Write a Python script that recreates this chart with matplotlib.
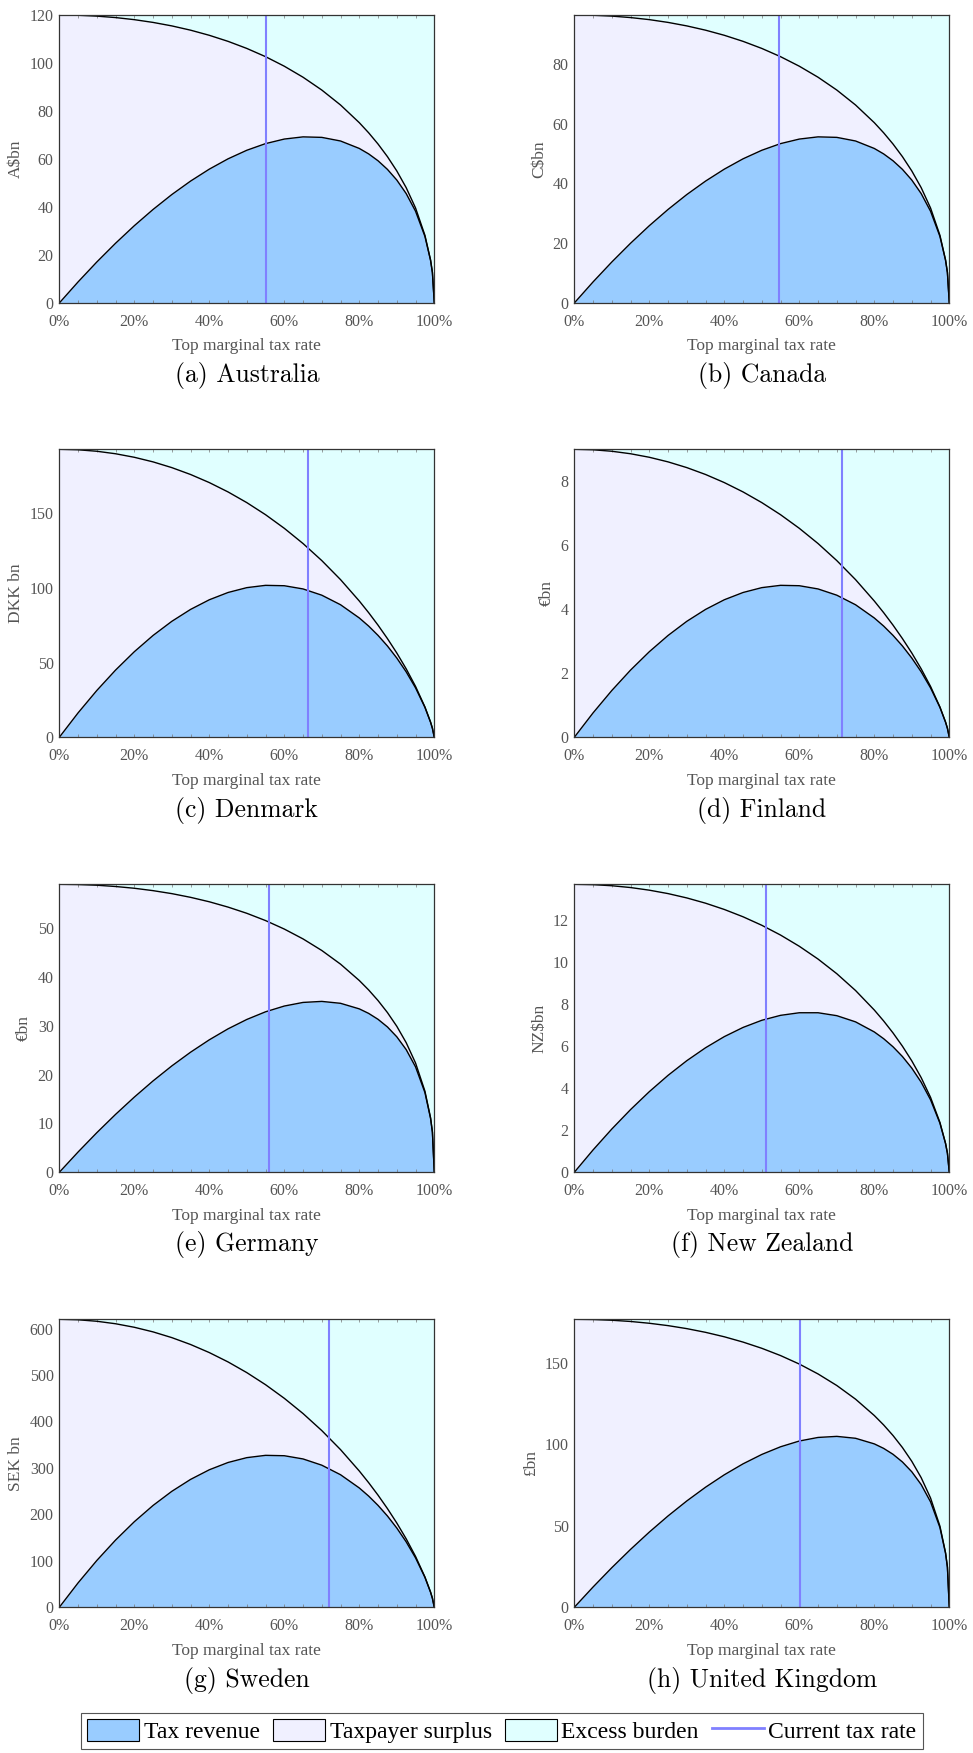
import numpy as np
import matplotlib.pyplot as plt
from matplotlib.patches import Patch
from matplotlib.lines import Line2D

rates = [0, 5, 10, 15, 20, 25, 30, 35, 40, 45, 50, 55, 60, 65, 70, 75, 80, 82.5, 85, 87.5,
         90, 92.5, 95, 97.5, 99, 99.5, 100]

# Tax revenue and revenue + taxpayer surplus, per country
aus_revenue = [0, 8.77, 17.08, 24.89, 32.20, 38.97, 45.18, 50.79, 55.77, 60.07, 63.64, 66.41,
               68.31, 69.22, 69.01, 67.50, 64.40, 62.12, 59.26, 55.68, 51.23, 45.60, 38.24,
               27.75, 17.82, 12.66, 0]
aus_total = [120, 119.89, 119.53, 118.93, 118.06, 116.91, 115.46, 113.68, 111.54, 109.02, 106.07,
             102.64, 98.66, 94.07, 88.73, 82.50, 75.13, 70.91, 66.23, 60.99, 55.02, 48.06, 39.58,
             28.22, 17.94, 12.71, 0]

can_revenue = [0, 7.05, 13.72, 20.00, 25.87, 31.31, 36.30, 40.80, 44.80, 48.26, 51.12, 53.35,
               54.87, 55.61, 55.44, 54.23, 51.73, 49.90, 47.60, 44.73, 41.15, 36.63, 30.72,
               22.29, 14.32, 10.17, 0]
can_total = [96.4, 96.31, 96.03, 95.54, 94.85, 93.92, 92.75, 91.32, 89.61, 87.58, 85.21, 82.45,
             79.26, 75.57, 71.28, 66.28, 60.36, 56.96, 53.20, 48.99, 44.20, 38.61, 31.80, 22.67,
             14.41, 10.21, 0]

den_revenue = [0, 16.34, 31.36, 45.03, 57.34, 68.24, 77.71, 85.69, 92.16, 97.04, 100.29, 101.83,
               101.57, 99.42, 95.23, 88.83, 79.97, 74.52, 68.28, 61.20, 53.13, 43.88, 33.12,
               20.07, 10.16, 6.03, 0]
den_total = [193, 192.68, 191.69, 190.02, 187.65, 184.57, 180.73, 176.12, 170.70, 164.43, 157.27,
             149.17, 140.05, 129.84, 118.42, 105.66, 91.33, 83.50, 75.13, 66.16, 56.48, 45.90,
             34.11, 20.36, 10.21, 6.04, 0]

fin_revenue = [0, 0.762, 1.462, 2.100, 2.674, 3.182, 3.624, 3.996, 4.298, 4.525, 4.677, 4.749,
               4.737, 4.636, 4.441, 4.142, 3.729, 3.475, 3.184, 2.854, 2.477, 2.046, 1.544,
               0.936, 0.474, 0.281, 0]
fin_total = [9.0, 8.985, 8.939, 8.861, 8.751, 8.607, 8.428, 8.213, 7.960, 7.668, 7.334, 6.956,
             6.531, 6.055, 5.522, 4.927, 4.259, 3.894, 3.504, 3.085, 2.634, 2.140, 1.590, 0.949,
             0.476, 0.282, 0]

ger_revenue = [0, 4.15, 8.11, 11.86, 15.40, 18.72, 21.79, 24.60, 27.14, 29.39, 31.31, 32.88,
               34.06, 34.80, 35.01, 34.62, 33.48, 32.55, 31.34, 29.78, 27.76, 25.14, 21.60,
               16.34, 11.09, 8.22, 0]
ger_total = [59.0, 58.95, 58.81, 58.55, 58.19, 57.70, 57.09, 56.33, 55.42, 54.33, 53.06, 51.57,
             49.83, 47.81, 45.44, 42.64, 39.29, 37.35, 35.18, 32.73, 29.91, 26.56, 22.39, 16.63,
             11.17, 8.24, 0]

nz_revenue = [0, 1.062, 2.056, 2.980, 3.832, 4.608, 5.305, 5.920, 6.449, 6.886, 7.226, 7.461,
              7.584, 7.584, 7.445, 7.151, 6.672, 6.350, 5.965, 5.504, 4.952, 4.283, 3.448, 2.335,
              1.368, 0.907, 0]
nz_total = [13.69, 13.673, 13.622, 13.536, 13.411, 13.248, 13.042, 12.792, 12.494, 12.146, 11.742,
            11.277, 10.744, 10.136, 9.440, 8.641, 7.714, 7.192, 6.623, 5.995, 5.296, 4.500, 3.562,
            2.372, 1.377, 0.910, 0]

swe_revenue = [0, 52.47, 100.73, 144.67, 184.20, 219.23, 249.63, 275.29, 296.05, 311.74, 322.17,
               327.12, 326.30, 319.38, 305.93, 285.37, 256.90, 239.38, 219.36, 196.60, 170.67,
               140.96, 106.38, 64.46, 32.62, 19.36, 0]
swe_total = [620, 618.96, 615.78, 610.43, 602.83, 592.91, 580.58, 565.76, 548.36, 528.23, 505.23,
             479.20, 449.90, 417.09, 380.42, 339.41, 293.40, 268.22, 241.35, 212.55, 181.44,
             147.45, 109.56, 65.40, 32.81, 19.42, 0]

uk_revenue = [0, 12.43, 24.28, 35.51, 46.11, 56.02, 65.21, 73.64, 81.25, 87.97, 93.73, 98.43,
              101.96, 104.15, 104.81, 103.64, 100.21, 97.44, 93.81, 89.12, 83.10, 75.25, 64.66,
              48.92, 33.19, 24.59, 0]
uk_total = [176.6, 176.46, 176.02, 175.27, 174.17, 172.72, 170.88, 168.61, 165.88, 162.63, 158.82,
            154.36, 149.16, 143.09, 136.00, 127.63, 117.60, 111.80, 105.31, 97.97, 89.51, 79.49,
            67.02, 49.79, 33.42, 24.67, 0]

countries = ["Australia", "Canada", "Denmark", "Finland", "Germany", "New Zealand", "Sweden",
             "United Kingdom"]
letters = ["a", "b", "c", "d", "e", "f", "g", "h"]
ylabels = ["A$bn", "C$bn", "DKK bn", "€bn", "€bn", "NZ$bn", "SEK bn", "£bn"]
ytick_steps = [20, 20, 50, 2, 10, 2, 100, 50]
current_rates = [55.2, 54.5, 66.2, 71.4, 55.9, 51.0, 71.8, 60.1]
revenues = [aus_revenue, can_revenue, den_revenue, fin_revenue, ger_revenue, nz_revenue,
            swe_revenue, uk_revenue]
totals = [aus_total, can_total, den_total, fin_total, ger_total, nz_total, swe_total, uk_total]

# Colours
c_revenue = "#99ccff"
c_surplus = "#f0f0ff"
c_excess = "#e0ffff"
c_current = "#8080ff"
c_text = "#555555"

W, H = 973, 1753
fig = plt.figure(figsize=(W / 100, H / 100), dpi=100)

col_left = [59.3, 574.3]
row_top = [15, 449.3, 884.3, 1319.3]
ax_w, ax_h = 375, 288
serif = "Liberation Serif"

for i in range(8):
    r, c = divmod(i, 2)
    x0, y0 = col_left[c], row_top[r]
    ax = fig.add_axes([x0 / W, 1 - (y0 + ax_h) / H, ax_w / W, ax_h / H])

    rev = np.array(revenues[i])
    tot = np.array(totals[i])
    ymax = tot.max()

    # Areas: excess burden (background), taxpayer surplus, tax revenue
    ax.set_facecolor(c_excess)
    ax.fill_between(rates, 0, tot, color=c_surplus, lw=0)
    ax.fill_between(rates, 0, rev, color=c_revenue, lw=0)
    ax.plot(rates, tot, color="black", lw=1.0)
    ax.plot(rates, rev, color="black", lw=1.0)
    ax.axvline(current_rates[i], color=c_current, lw=1.5)

    ax.set_xlim(0, 100)
    ax.set_ylim(0, ymax)
    ax.set_xticks([0, 20, 40, 60, 80, 100])
    ax.set_xticklabels(["%d%%" % v for v in [0, 20, 40, 60, 80, 100]])
    ax.set_xticks(np.arange(0, 101, 5), minor=True)
    ax.set_yticks(np.arange(0, ymax + 1e-6, ytick_steps[i]))
    ax.tick_params(axis="x", which="both", direction="in", length=2, width=0.5,
                   color="#777777", top=True, pad=8)
    ax.tick_params(axis="y", length=0, pad=4)
    for lab in ax.get_xticklabels() + ax.get_yticklabels():
        lab.set_fontfamily(serif)
        lab.set_fontsize(11.5)
        lab.set_color(c_text)
    for sp in ax.spines.values():
        sp.set_color("#333333")
        sp.set_linewidth(0.9)

    ax.set_xlabel("Top marginal tax rate", labelpad=6, family=serif, size=12.5, color=c_text)
    ax.set_ylabel(ylabels[i], labelpad=4, family=serif, size=12.5, color=c_text)

    # Sub-figure caption
    fig.text((x0 + ax_w / 2) / W, 1 - (y0 + 360.7) / H, "(%s) %s" % (letters[i], countries[i]),
             ha="center", va="center", family="cmr10", size=18.5)

handles = [
    Patch(facecolor=c_revenue, edgecolor="black", lw=0.8, label="Tax revenue"),
    Patch(facecolor=c_surplus, edgecolor="black", lw=0.8, label="Taxpayer surplus"),
    Patch(facecolor=c_excess, edgecolor="black", lw=0.8, label="Excess burden"),
    Line2D([], [], color=c_current, lw=2, label="Current tax rate"),
]
leg = fig.legend(handles=handles, loc="center", bbox_to_anchor=(502 / W, 1 - 1731 / H), ncol=4,
                 frameon=True, fancybox=False, edgecolor="#555555", framealpha=1,
                 prop={"family": serif, "size": 17}, handlelength=2.2,
                 handleheight=1.1, handletextpad=0.2, columnspacing=0.55, borderpad=0.25,
                 borderaxespad=0)
leg.get_frame().set_linewidth(0.8)

fig.savefig("out.png", dpi=100)
